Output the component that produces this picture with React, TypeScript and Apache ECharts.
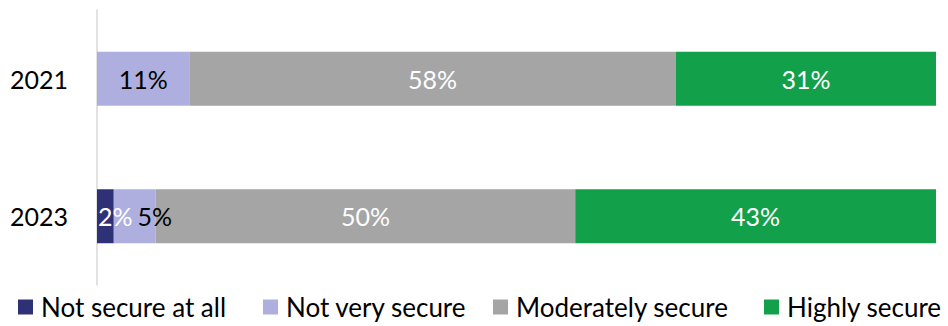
import React, { useEffect, useRef } from "react";
import * as echarts from "echarts";

const categories = ["2021", "2023"];
const seriesNames = ["Not secure at all", "Not very secure", "Moderately secure", "Highly secure"];
const notSecureAtAll = [0, 2];
const notVerySecure = [11, 5];
const moderatelySecure = [58, 50];
const highlySecure = [31, 43];

const FONT = "Lato, 'Open Sans', sans-serif";
const colors = ["#2e3176", "#aeafdf", "#a5a5a5", "#12a04a"];
const labelColors = ["#ffffff", "#000000", "#ffffff", "#ffffff"];
// small label nudges to avoid overlap of tiny segments (like the original)
const labelOffsets: number[][][] = [
  [[0, 0], [10, 0]],
  [[0, 0], [20, 0]],
  [[0, 0], [0, 0]],
  [[0, 0], [0, 0]],
];
const legendLefts = [18, 263, 493, 764];

export default function App() {
  const ref = useRef<HTMLDivElement>(null);
  useEffect(() => {
    if (!ref.current) return;
    const chart = echarts.init(ref.current, null, { renderer: "svg" });
    const values = [notSecureAtAll, notVerySecure, moderatelySecure, highlySecure];
    const series = values.map((arr, si) => ({
      name: seriesNames[si],
      type: "bar",
      stack: "total",
      barWidth: 54,
      data: arr.map((v, ci) => ({
        value: v,
        label: { offset: labelOffsets[si][ci] },
      })),
      itemStyle: { color: colors[si] },
      label: {
        show: true,
        position: "inside",
        color: labelColors[si],
        fontSize: 25,
        fontFamily: FONT,
        formatter: (p: any) => (p.value > 0 ? p.value + "%" : ""),
      },
    }));
    const legends = seriesNames.map((n, i) => ({
      data: [n],
      left: legendLefts[i],
      top: 294,
      padding: 0,
      icon: "rect",
      itemWidth: 15,
      itemHeight: 15,
      itemGap: 0,
      selectedMode: false,
      textStyle: { fontSize: 26, color: "#000", fontFamily: FONT, padding: [0, 0, 0, 3] },
    }));
    chart.setOption({
      animation: false,
      textStyle: { fontFamily: FONT },
      grid: { left: 97, right: 12, top: 10, bottom: 41, containLabel: false },
      xAxis: { type: "value", min: 0, max: 100, show: false },
      yAxis: {
        type: "category",
        data: categories,
        inverse: true,
        axisLine: { show: true, lineStyle: { color: "#d9d9d9", width: 1.5 } },
        axisTick: { show: false },
        axisLabel: { color: "#000", fontSize: 25, fontFamily: FONT, margin: 29 },
      },
      legend: legends,
      series,
    });
    return () => chart.dispose();
  }, []);
  return <div ref={ref} style={{ width: 948, height: 326, position: "absolute", left: 0, top: 0 }} />;
}
